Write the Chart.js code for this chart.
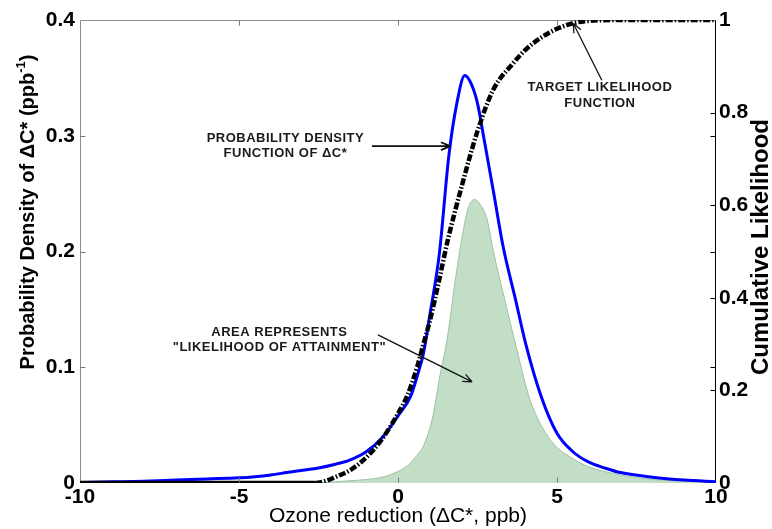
<!DOCTYPE html>
<html>
<head>
<meta charset="utf-8">
<title>Ozone reduction likelihood</title>
<script src="https://cdn.jsdelivr.net/npm/chart.js@4.4.1/dist/chart.umd.min.js"></script>
<style>
  body { margin: 0; background: #fff; }
  canvas { display: block; }
</style>
</head>
<body>
<canvas id="myChart" width="772" height="529"></canvas>
<script>
// tick labels
const xTicks = [-10, -5, 0, 5, 10];
const densityTicks = [0, 0.1, 0.2, 0.3, 0.4];
const likelihoodTicks = [0, 0.2, 0.4, 0.6, 0.8, 1];

// probability density of the ozone reduction (left axis)
const pdfX = [-10, -9, -8, -7, -6, -5, -4.5, -4, -3.5, -3, -2.5, -2, -1.5, -1, -0.5, 0, 0.4, 0.6, 0.8, 1.0, 1.3, 1.6, 1.85, 2.1, 2.3, 2.5, 2.7, 3.0, 3.3, 3.7, 4.0, 4.5, 5.0, 5.5, 6, 6.5, 7, 8, 9, 10];
const pdfY = [0.0005, 0.001, 0.0015, 0.0025, 0.0035, 0.0045, 0.0055, 0.007, 0.009, 0.011, 0.013, 0.016, 0.020, 0.027, 0.039, 0.058, 0.075, 0.092, 0.112, 0.145, 0.198, 0.283, 0.328, 0.352, 0.345, 0.328, 0.298, 0.252, 0.205, 0.158, 0.122, 0.075, 0.043, 0.027, 0.018, 0.013, 0.009, 0.005, 0.0025, 0.001];

// target likelihood function (right axis)
const cdfX = [-10, -2.6, -2.2, -2, -1.5, -1, -0.5, 0, 0.3, 0.6, 0.8, 1.0, 1.3, 1.55, 2.0, 2.5, 3.0, 3.6, 4.0, 4.5, 5.0, 5.5, 6, 7, 10];
const cdfY = [0, 0, 0.006, 0.012, 0.028, 0.055, 0.095, 0.15, 0.19, 0.25, 0.3, 0.35, 0.44, 0.52, 0.64, 0.76, 0.85, 0.905, 0.935, 0.962, 0.981, 0.993, 0.998, 1, 1];

// shaded area, likelihood of attainment (left axis)
const areaX = [-2.5, -1.5, -1, -0.5, 0, 0.3, 0.6, 0.8, 1.1, 1.3, 1.55, 1.8, 2.0, 2.2, 2.4, 2.6, 2.8, 3.0, 3.36, 3.74, 4.15, 4.8, 5.5, 6, 7, 8, 9, 10];
const areaY = [0, 0.002, 0.003, 0.005, 0.01, 0.015, 0.024, 0.032, 0.058, 0.09, 0.125, 0.175, 0.21, 0.237, 0.245, 0.24, 0.228, 0.2, 0.158, 0.115, 0.072, 0.037, 0.021, 0.014, 0.007, 0.003, 0.0015, 0.0005];

// text notes with arrows, placed in data units of the given axis
const notes = [
    { axis: 'y', text: ['PROBABILITY DENSITY', 'FUNCTION OF \u0394C*'], at: [-3.54, 0.298], tail: [-0.82, 0.291], head: [1.64, 0.291], width: 1.8 },
    { axis: 'y2', text: ['TARGET LIKELIHOOD', 'FUNCTION'], at: [6.35, 0.854], tail: [6.41, 0.87], head: [5.51, 0.993], width: 1.3 },
    { axis: 'y', text: ['AREA REPRESENTS', '"LIKELIHOOD OF ATTAINMENT"'], at: [-3.73, 0.1305], tail: [-0.63, 0.128], head: [2.33, 0.0873], width: 1.3 }
];

const FONT = "'Liberation Sans', Arial, sans-serif";
Chart.defaults.font.family = FONT;
Chart.defaults.color = '#000';

const toPoints = (xs, ys) => xs.map((x, i) => ({ x: x, y: ys[i] }));
const dashDot = [7, 2, 1.5, 2];

// box round the plot and the inward tick marks (MATLAB style)
const axisFrame = {
    id: 'axisFrame',
    beforeDatasetsDraw(chart) {
        const { ctx, chartArea: a } = chart;
        const L = Math.round(a.left) + 0.5, R = Math.round(a.right) - 0.5;
        const T = Math.round(a.top) + 0.5, B = Math.round(a.bottom) - 0.5;
        ctx.save();
        ctx.lineWidth = 1;
        ctx.strokeStyle = '#8c8c8c';
        ctx.beginPath();
        ctx.moveTo(R, T); ctx.lineTo(L, T); ctx.lineTo(L, B); ctx.lineTo(R, B);
        ctx.stroke();
        ctx.strokeStyle = '#000';
        ctx.beginPath();
        ctx.moveTo(R, T); ctx.lineTo(R, B);
        ctx.stroke();
        ctx.restore();
    },
    afterDatasetsDraw(chart) {
        const { ctx, chartArea: a, scales } = chart;
        const L = Math.round(a.left) + 0.5, R = Math.round(a.right) - 0.5;
        const T = Math.round(a.top) + 0.5, B = Math.round(a.bottom) - 0.5;
        const inner = (ticks) => ticks.slice(1, -1);
        ctx.save();
        ctx.lineWidth = 1;
        ctx.strokeStyle = '#7a7a7a';
        ctx.beginPath();
        for (let t of inner(scales.x.ticks)) {
            let px = Math.round(scales.x.getPixelForValue(t.value)) + 0.5;
            ctx.moveTo(px, B); ctx.lineTo(px, B - 5);
            ctx.moveTo(px, T); ctx.lineTo(px, T + 5);
        }
        for (let t of inner(scales.y.ticks)) {
            let py = Math.round(scales.y.getPixelForValue(t.value)) + 0.5;
            ctx.moveTo(L, py); ctx.lineTo(L + 5, py);
        }
        ctx.stroke();
        ctx.strokeStyle = '#000';
        ctx.beginPath();
        for (let t of inner(scales.y.ticks).concat(inner(scales.y2.ticks))) {
            let s = scales.y2.ticks.includes(t) ? scales.y2 : scales.y;
            let py = Math.round(s.getPixelForValue(t.value)) + 0.5;
            ctx.moveTo(R, py); ctx.lineTo(R - 5, py);
        }
        ctx.stroke();
        ctx.restore();
    }
};

// annotation texts and arrows
const notesPlugin = {
    id: 'notes',
    afterDatasetsDraw(chart) {
        const { ctx, scales } = chart;
        ctx.save();
        for (let n of notes) {
            const ys = scales[n.axis];
            const px = v => [scales.x.getPixelForValue(v[0]), ys.getPixelForValue(v[1])];
            const at = px(n.at);
            ctx.fillStyle = '#1a1a1a';
            ctx.font = 'bold 13px ' + FONT;
            ctx.letterSpacing = '0.5px';
            ctx.textAlign = 'center';
            ctx.textBaseline = 'middle';
            n.text.forEach((line, i) => ctx.fillText(line, at[0], at[1] + i * 15.5));

            const t = px(n.tail), h = px(n.head);
            const ang = Math.atan2(h[1] - t[1], h[0] - t[0]);
            ctx.strokeStyle = '#111';
            ctx.lineWidth = n.width;
            ctx.beginPath();
            ctx.moveTo(t[0], t[1]);
            ctx.lineTo(h[0], h[1]);
            for (let side of [-1, 1]) {
                ctx.moveTo(h[0], h[1]);
                ctx.lineTo(h[0] - 10 * Math.cos(ang + side * 0.4), h[1] - 10 * Math.sin(ang + side * 0.4));
            }
            ctx.stroke();
        }
        ctx.restore();
    }
};

// vertical axis titles, both read bottom to top
const yTitles = {
    id: 'yTitles',
    afterDraw(chart) {
        const { ctx } = chart;
        ctx.save();
        ctx.fillStyle = '#000';
        ctx.textBaseline = 'middle';
        ctx.textAlign = 'left';

        // left: Probability Density of ΔC* (ppb^-1)
        const big = 'bold 20px ' + FONT, small = 'bold 13px ' + FONT;
        const p1 = 'Probability Density of \u0394C* (ppb', sup = '-1', p2 = ')';
        ctx.font = big; const w1 = ctx.measureText(p1).width, w3 = ctx.measureText(p2).width;
        ctx.font = small; const w2 = ctx.measureText(sup).width;
        ctx.translate(28, 212);
        ctx.rotate(-Math.PI / 2);
        let x0 = -(w1 + w2 + w3) / 2;
        ctx.font = big; ctx.fillText(p1, x0, 0);
        ctx.font = small; ctx.fillText(sup, x0 + w1, -7);
        ctx.font = big; ctx.fillText(p2, x0 + w1 + w2, 0);
        ctx.restore();

        ctx.save();
        ctx.fillStyle = '#000';
        ctx.textBaseline = 'middle';
        ctx.textAlign = 'center';
        ctx.font = 'bold 24px ' + FONT;
        ctx.translate(761, 247);
        ctx.rotate(-Math.PI / 2);
        ctx.fillText('Cumulative Likelihood', 0, 0);
        ctx.restore();
    }
};

const setTicks = (values) => (scale) => { scale.ticks = values.map(v => ({ value: v })); };
const plainLabel = v => String(v);

new Chart(document.getElementById('myChart'), {
    type: 'line',
    data: {
        datasets: [{
            label: 'Target likelihood function',
            data: toPoints(cdfX, cdfY),
            yAxisID: 'y2',
            borderColor: '#000',
            borderWidth: 4.5,
            borderDash: dashDot,
            segment: {
                // the flat run at zero is drawn solid in the original
                borderDash: ctx => (ctx.p0.parsed.y === 0 && ctx.p1.parsed.y === 0) ? [] : dashDot
            },
            pointRadius: 0,
            fill: false,
            cubicInterpolationMode: 'monotone'
        }, {
            label: 'Probability density function of \u0394C*',
            data: toPoints(pdfX, pdfY),
            yAxisID: 'y',
            borderColor: '#0000ff',
            borderWidth: 3,
            pointRadius: 0,
            fill: false,
            cubicInterpolationMode: 'monotone'
        }, {
            label: 'Likelihood of attainment',
            data: toPoints(areaX, areaY),
            yAxisID: 'y',
            borderColor: '#9cc2a1',
            borderWidth: 1,
            backgroundColor: '#c2dec6',
            fill: 'origin',
            pointRadius: 0,
            cubicInterpolationMode: 'monotone'
        }]
    },
    options: {
        responsive: false,
        animation: false,
        devicePixelRatio: 1,
        layout: { padding: { top: 20, left: 0, right: 0, bottom: 0 } },
        plugins: {
            legend: { display: false },
            tooltip: { enabled: false }
        },
        scales: {
            x: {
                type: 'linear',
                min: -10,
                max: 10,
                afterBuildTicks: setTicks(xTicks),
                afterFit: s => { s.height = 46; },
                grid: { display: false, drawTicks: false },
                border: { display: false },
                ticks: { font: { size: 21, weight: 'bold' }, padding: 2, maxRotation: 0, autoSkip: false, callback: plainLabel },
                title: {
                    display: true,
                    text: 'Ozone reduction (\u0394C*, ppb)',
                    font: { size: 21, weight: 'normal', lineHeight: 1.2 },
                    padding: { top: 0, bottom: 0 }
                }
            },
            y: {
                position: 'left',
                min: 0,
                max: 0.4,
                afterBuildTicks: setTicks(densityTicks),
                afterFit: s => { s.width = 80; },
                grid: { display: false, drawTicks: false },
                border: { display: false },
                ticks: { font: { size: 21, weight: 'bold' }, padding: 5, callback: plainLabel }
            },
            y2: {
                position: 'right',
                min: 0,
                max: 1,
                afterBuildTicks: setTicks(likelihoodTicks),
                afterFit: s => { s.width = 56; },
                grid: { display: false, drawTicks: false },
                border: { display: false },
                ticks: { font: { size: 21, weight: 'bold' }, padding: 3, callback: plainLabel }
            }
        }
    },
    plugins: [axisFrame, notesPlugin, yTitles]
});
</script>
</body>
</html>
